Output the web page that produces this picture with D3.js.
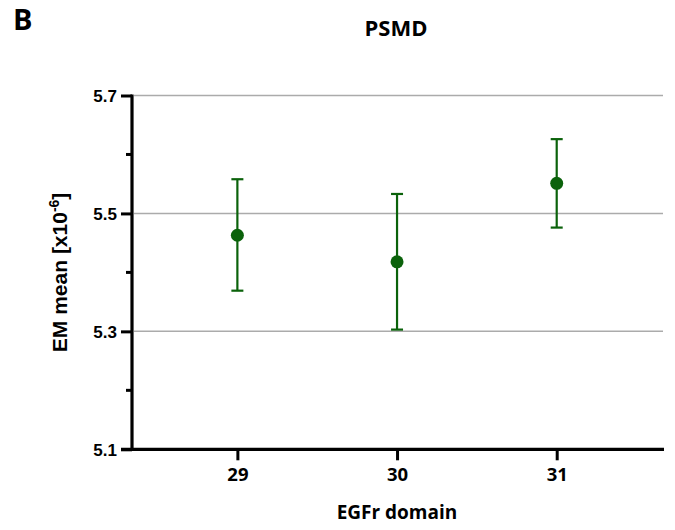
<!DOCTYPE html>
<html>
<head>
<meta charset="utf-8">
<script src="https://cdn.jsdelivr.net/npm/d3@7"></script>
<style>
  html, body { margin: 0; padding: 0; background: #fff; }
  svg { display: block; }
</style>
</head>
<body>
<svg id="chart" width="675" height="530"></svg>
<script>
// EGFr domains and PSMD EM means with error bar limits
const domains = [29, 30, 31];
const means = [5.463, 5.418, 5.551];
const lower = [5.369, 5.303, 5.476];
const upper = [5.558, 5.533, 5.626];
const yTicks = [5.1, 5.3, 5.5, 5.7];
const yMinorTicks = [5.2, 5.4, 5.6];
const gridValues = [5.3, 5.5, 5.7];

const svg = d3.select("#chart");
const green = "#0b620b";

const x = d3.scaleLinear().domain([28.34, 31.672]).range([132, 664]);
const y = d3.scaleLinear().domain([5.1, 5.7]).range([449.3, 95.5]);

// horizontal gridlines
svg.append("g")
  .selectAll("line")
  .data(gridValues)
  .join("line")
  .attr("x1", 134).attr("x2", 663)
  .attr("y1", d => y(d)).attr("y2", d => y(d))
  .attr("stroke", "#ababab")
  .attr("stroke-width", 1.5);

// y axis
const yAxis = svg.append("g")
  .attr("transform", `translate(${x.range()[0]},0)`)
  .call(d3.axisLeft(y).tickValues(yTicks).tickFormat(d3.format(".1f")).tickSize(11).tickSizeOuter(0));
yAxis.select(".domain").attr("stroke", "#000").attr("stroke-width", 3.2).attr("d", `M0,${y(5.1) + 1.5}V${y(5.7) - 1}`);
yAxis.selectAll(".tick line").attr("stroke", "#000").attr("stroke-width", 3);
yAxis.selectAll(".tick text")
  .attr("x", -15)
  .attr("dy", "0.35em")
  .style("font-family", "'Liberation Sans', Arial, sans-serif")
  .style("font-weight", "bold")
  .style("font-size", "17px")
  .attr("fill", "#000");
yAxis.append("g")
  .selectAll("line")
  .data(yMinorTicks)
  .join("line")
  .attr("x1", -6).attr("x2", 0)
  .attr("y1", d => y(d)).attr("y2", d => y(d))
  .attr("stroke", "#000").attr("stroke-width", 3);

// x axis
const xAxis = svg.append("g")
  .attr("transform", `translate(0,${y(5.1)})`)
  .call(d3.axisBottom(x).tickValues(domains).tickFormat(d3.format("d")).tickSize(11).tickSizeOuter(0));
xAxis.select(".domain").attr("stroke", "#000").attr("stroke-width", 3.2).attr("d", `M121,0H664`);
xAxis.selectAll(".tick line").attr("stroke", "#000").attr("stroke-width", 3);
xAxis.selectAll(".tick text")
  .attr("y", 19)
  .attr("dy", "0.71em")
  .style("font-family", "'Open Sans', sans-serif")
  .style("font-weight", "bold")
  .style("font-size", "18.5px")
  .attr("fill", "#000");

// error bars
const bars = svg.append("g")
  .selectAll("g")
  .data(domains.map((d, i) => ({ d, m: means[i], lo: lower[i], hi: upper[i] })))
  .join("g")
  .attr("stroke", green)
  .attr("stroke-width", 2.2);
bars.append("line")
  .attr("x1", p => x(p.d)).attr("x2", p => x(p.d))
  .attr("y1", p => y(p.hi)).attr("y2", p => y(p.lo));
bars.append("line")
  .attr("x1", p => x(p.d) - 6).attr("x2", p => x(p.d) + 6)
  .attr("y1", p => y(p.hi)).attr("y2", p => y(p.hi));
bars.append("line")
  .attr("x1", p => x(p.d) - 6).attr("x2", p => x(p.d) + 6)
  .attr("y1", p => y(p.lo)).attr("y2", p => y(p.lo));

// mean markers
svg.append("g")
  .selectAll("circle")
  .data(domains)
  .join("circle")
  .attr("cx", d => x(d))
  .attr("cy", (d, i) => y(means[i]))
  .attr("r", 6.5)
  .attr("fill", green);

// titles
svg.append("text")
  .attr("x", 13).attr("y", 30)
  .style("font-family", "'Open Sans', sans-serif")
  .style("font-weight", "bold")
  .style("font-size", "29px")
  .text("B");

svg.append("text")
  .attr("x", 396).attr("y", 36)
  .attr("text-anchor", "middle")
  .style("font-family", "'Open Sans', sans-serif")
  .style("font-weight", "bold")
  .style("font-size", "22px")
  .text("PSMD");

svg.append("text")
  .attr("x", 397).attr("y", 519)
  .attr("text-anchor", "middle")
  .style("font-family", "'Open Sans', sans-serif")
  .style("font-weight", "bold")
  .style("font-size", "19px")
  .text("EGFr domain");

const yTitle = svg.append("text")
  .attr("transform", `translate(67,${(y(5.1) + y(5.7)) / 2}) rotate(-90)`)
  .attr("text-anchor", "middle")
  .style("font-family", "'Liberation Sans', Arial, sans-serif")
  .style("font-weight", "bold")
  .style("font-size", "21px");
yTitle.append("tspan").text("EM mean [x10");
yTitle.append("tspan").attr("dy", -8).style("font-size", "14px").text("-6");
yTitle.append("tspan").attr("dy", 8).text("]");
</script>
</body>
</html>
